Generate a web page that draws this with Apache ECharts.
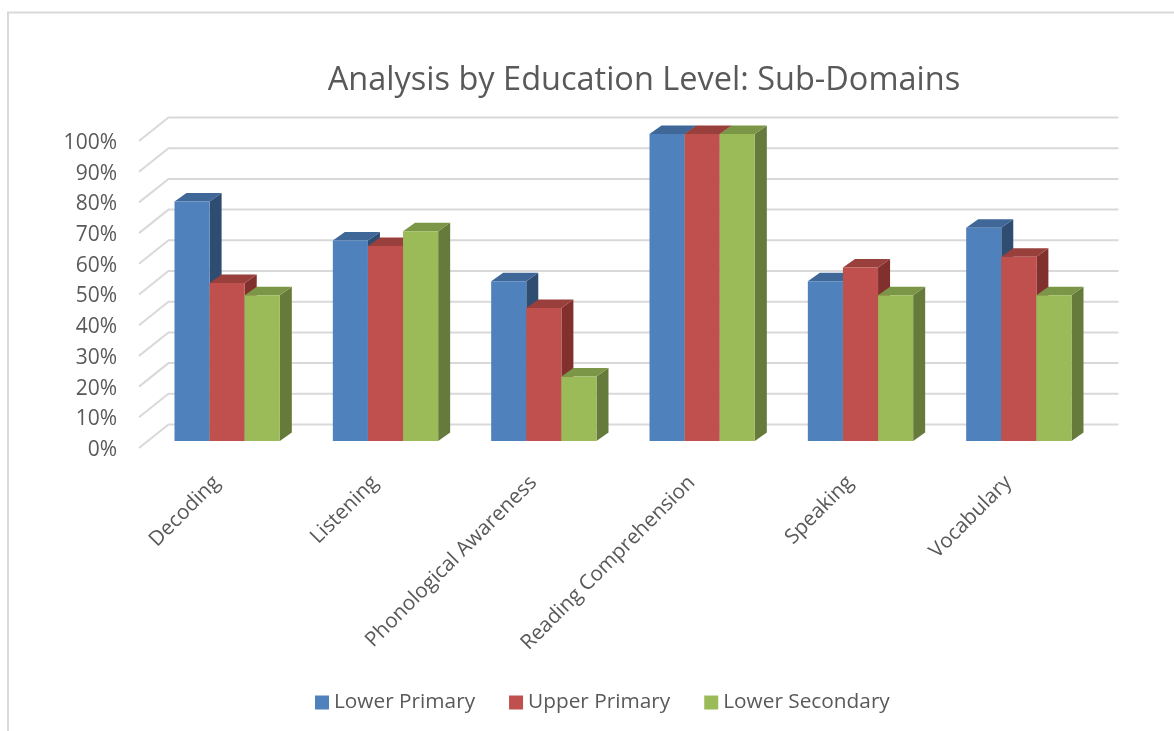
<!DOCTYPE html>
<html><head><meta charset="utf-8">
<style>html,body{margin:0;padding:0;background:#fff}#c{width:1174px;height:731px}</style>
<script src="https://cdn.jsdelivr.net/npm/echarts@6/dist/echarts.min.js"></script>
</head><body><div id="c"></div>
<script>
const categories = ["Decoding","Listening","Phonological Awareness","Reading Comprehension","Speaking","Vocabulary"];
const lowerPrimary = [78,65.3,52,100,52,69.5];
const upperPrimary = [51.5,63.5,43.3,100,56.5,60];
const lowerSecondary = [47.5,68.3,21,100,47.5,47.5];
const ticks = [0,10,20,30,40,50,60,70,80,90,100];
const seriesNames = ["Lower Primary","Upper Primary","Lower Secondary"];
const font = "'Open Sans'";
const txt = "#595959";
const faces = [
  {front:"#4f81bd",top:"#3f6797",side:"#2f4d71"},
  {front:"#c0504d",top:"#99403d",side:"#81302e"},
  {front:"#9bbb59",top:"#7c9647",side:"#667a3c"}
];
const backDX=29.5, backDY=-23.5;   // floor depth
const barDX=9, barDY=-7;           // bar front plane
const depthDX=12, depthDY=-8.5;    // bar depth
const gapFrac=26.5/158.3;

function wallItem(params, api){
  const y=api.value(1), p=api.coord([0,y]), band=api.size([1,0])[0];
  const x0=p[0]-band/2, x1=x0+band*6;
  return {type:'polyline',silent:true,
    shape:{points:[[x0,p[1]],[x0+backDX,p[1]+backDY],[x1+backDX,p[1]+backDY]]},
    style:{fill:null,stroke:'#d9d9d9',lineWidth:2}};
}
function barItem(s){
  return function(params, api){
    const i=api.value(0), p=api.coord([i,api.value(1)]), b=api.coord([i,0]), band=api.size([1,0])[0];
    const w=band*(1-2*gapFrac)/3;
    const x=p[0]-band/2+band*gapFrac+w*s+barDX;
    const t=p[1]+barDY, f=b[1]+barDY;
    const c=faces[s];
    const poly=(pts,col)=>({type:'polygon',shape:{points:pts},style:{fill:col}});
    return {type:'group',silent:true,children:[
      poly([[x+w,t],[x+w+depthDX,t+depthDY],[x+w+depthDX,f+depthDY],[x+w,f]],c.side),
      poly([[x,t],[x+depthDX,t+depthDY],[x+w+depthDX,t+depthDY],[x+w,t]],c.top),
      poly([[x,t],[x+w,t],[x+w,f],[x,f]],c.front)
    ]};
  };
}
const values=[lowerPrimary,upperPrimary,lowerSecondary];
const chart=echarts.init(document.getElementById('c'),null,{renderer:'canvas'});
chart.setOption({
  animation:false,
  backgroundColor:'#fff',
  title:{text:'Analysis by Education Level: Sub-Domains',left:639,top:59,textAlign:'center',
    textStyle:{fontFamily:font,fontSize:32.5,fontWeight:'normal',color:txt}},
  legend:{data:seriesNames,top:687,left:310,icon:'rect',itemWidth:14,itemHeight:14,itemGap:34,
    textStyle:{fontFamily:font,fontSize:20.8,color:txt}},
  grid:{left:139,top:141,width:950,height:307},
  xAxis:{type:'category',data:categories,axisLine:{show:false},axisTick:{show:false},
    axisLabel:{rotate:45,interval:0,margin:30,padding:[0,2,0,0],fontFamily:font,fontSize:20.6,color:txt}},
  yAxis:{type:'value',min:0,max:100,interval:10,axisLine:{show:false},axisTick:{show:false},splitLine:{show:false},
    axisLabel:{formatter:'{t|{value}%}',margin:22,
      rich:{t:{padding:[4,0,0,0],fontFamily:font,fontSize:21,color:txt}}}},
  graphic:[{type:'polyline',silent:true,shape:{points:[[8,731],[8,12.5],[1174,12.5]]},style:{fill:null,stroke:'#d9d9d9',lineWidth:2}}],
  series:[
    {type:'custom',name:'walls',silent:true,clip:false,z:1,data:ticks.map(t=>[0,t]),renderItem:wallItem},
    ...seriesNames.map((n,s)=>({type:'custom',name:n,silent:true,clip:false,z:2+s,
      itemStyle:{color:faces[s].front},
      data:categories.map((c,i)=>[i,values[s][i]]),renderItem:barItem(s)}))
  ]
});
</script></body></html>
